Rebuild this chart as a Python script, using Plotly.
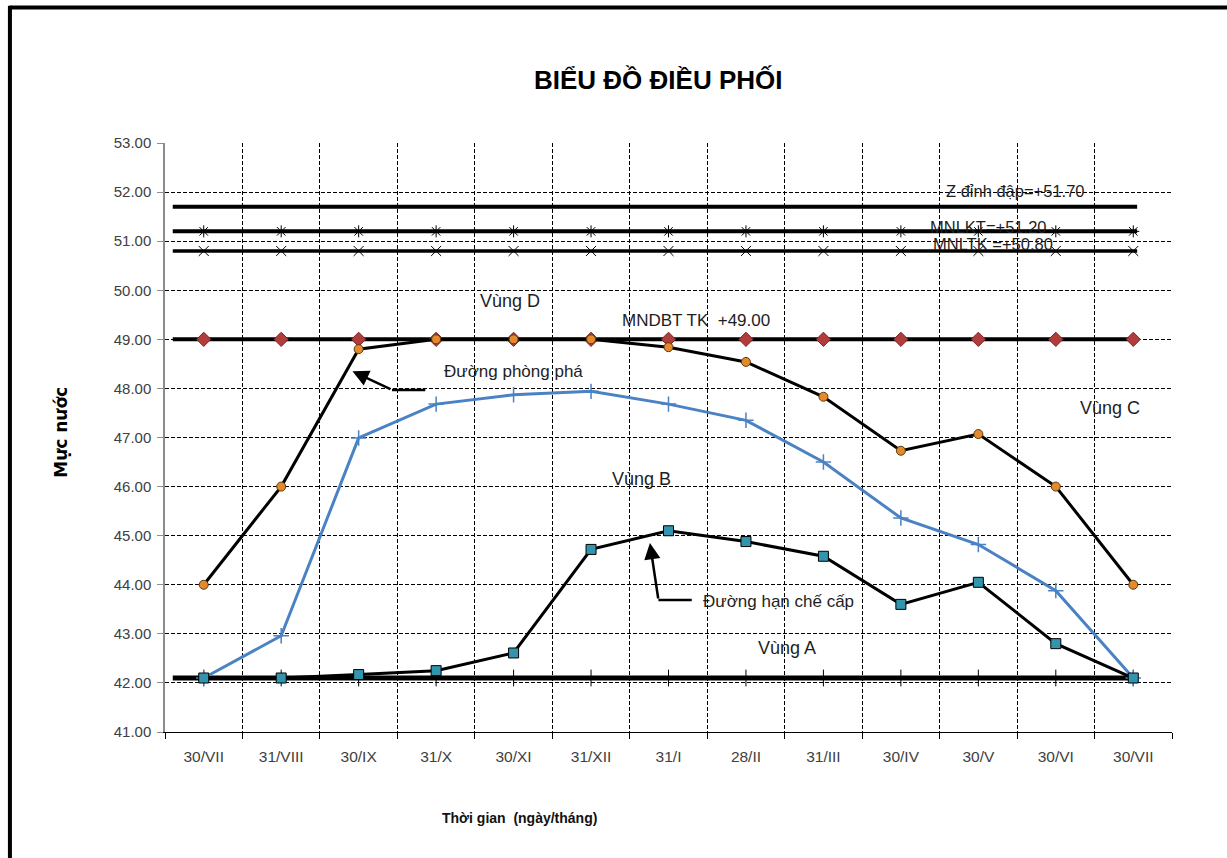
import plotly.graph_objects as go

# Time axis (end of each month)
months = ["30/VII", "31/VIII", "30/IX", "31/X", "30/XI", "31/XII", "31/I",
          "28/II", "31/III", "30/IV", "30/V", "30/VI", "30/VII"]

# Rule curves (water level, m)
phong_pha = [44.00, 46.00, 48.80, 49.00, 49.00, 49.00, 48.84, 48.54, 47.83,
             46.73, 47.07, 46.00, 44.00]
blue_curve = [42.10, 42.96, 46.99, 47.68, 47.87, 47.94, 47.68, 47.35, 46.50,
              45.36, 44.82, 43.88, 42.10]
han_che_cap = [42.10, 42.10, 42.17, 42.25, 42.61, 44.72, 45.10, 44.88, 44.58,
               43.60, 44.05, 42.80, 42.10]

# Characteristic levels
z_dinh_dap = 51.70
mnlkt = 51.20
mnltk = 50.80
mndbt = 49.00
mnc = 42.10

yticks = [41, 42, 43, 44, 45, 46, 47, 48, 49, 50, 51, 52, 53]

REG = "Liberation Sans, Arial, sans-serif"
WIDE = "DejaVu Sans, Liberation Sans, sans-serif"
GRID_DASH = "4px,2px"

x = list(range(len(months)))
x_span = [-0.4, len(months) - 1 + 0.05]

fig = go.Figure()


def level_line(level, width, marker=None, msize=8, mcolor="black", mline=None):
    fig.add_trace(go.Scatter(x=x_span, y=[level, level], mode="lines",
                             line=dict(color="black", width=width),
                             hoverinfo="skip", showlegend=False))
    if marker:
        fig.add_trace(go.Scatter(
            x=x, y=[level] * len(x), mode="markers",
            marker=dict(symbol=marker, size=msize, color=mcolor,
                        line=mline or dict(color="black", width=1)),
            showlegend=False))


level_line(z_dinh_dap, 4)
level_line(mnlkt, 4, "asterisk-open", 10, "black", dict(color="black", width=1))
level_line(mnltk, 3.5, "x-thin-open", 10, "black", dict(color="black", width=1))
level_line(mnc, 5, "line-ns-open", 12, "black", dict(color="black", width=1))
level_line(mndbt, 4, "diamond", 11, "#b03c3c", dict(color="#7a2424", width=1))

# Đường phòng phá
fig.add_trace(go.Scatter(
    x=x, y=phong_pha, mode="lines+markers",
    line=dict(color="black", width=3),
    marker=dict(symbol="circle", size=9, color="#e48a2c",
                line=dict(color="#5a3a10", width=1)),
    showlegend=False))

# Blue curve
fig.add_trace(go.Scatter(
    x=x, y=blue_curve, mode="lines+markers",
    line=dict(color="#4a82c4", width=3),
    marker=dict(symbol="cross-thin-open", size=11,
                line=dict(color="#4a82c4", width=1.5)),
    showlegend=False))

# Đường hạn chế cấp
fig.add_trace(go.Scatter(
    x=x, y=han_che_cap, mode="lines+markers",
    line=dict(color="black", width=3),
    marker=dict(symbol="square", size=10, color="#3394ae",
                line=dict(color="black", width=1)),
    showlegend=False))

annotations = [
    dict(text="<b>BIỂU ĐỒ ĐIỀU PHỐI</b>", xref="paper", yref="paper",
         x=0.49, y=1.0, yshift=80, showarrow=False,
         font=dict(size=26, color="black")),
    dict(text="<b>Thời gian  (ngày/tháng)</b>", xref="paper", yref="paper",
         x=0.352, y=0.0, yshift=-96, showarrow=False,
         font=dict(size=14, color="#111111")),
    dict(text="<b>Mực nước</b>", xref="paper", yref="paper",
         x=0.0, xshift=-116, y=0.508, textangle=-90, showarrow=False,
         font=dict(size=17, color="black", family=WIDE)),
    dict(text="Vùng D", x=3.95, y=49.78, showarrow=False, font=dict(size=18)),
    dict(text="MNDBT TK  +49.00", x=6.35, y=49.38, showarrow=False),
    dict(text="Đường phòng phá", x=4.0, y=48.35, showarrow=False),
    dict(text="Vùng C", x=11.7, y=47.6, showarrow=False, font=dict(size=18)),
    dict(text="Vùng B", x=5.65, y=46.15, showarrow=False, font=dict(size=18)),
    dict(text="Đường hạn chế cấp", x=7.42, y=43.65, showarrow=False),
    dict(text="Vùng A", x=7.53, y=42.71, showarrow=False, font=dict(size=18)),
    dict(text="Z đỉnh đập=+51.70", x=10.48, y=52.02, showarrow=False,
         font=dict(size=16.5)),
    dict(text="MNLKT=+51.20", x=10.12, y=51.29, showarrow=False,
         font=dict(size=16.5)),
    dict(text="MNLTK =+50.80", x=10.19, y=50.95, showarrow=False,
         font=dict(size=16.5)),
    # pointer arrows
    dict(text="", x=1.92, y=48.35, ax=2.43, ay=47.97, axref="x", ayref="y",
         showarrow=True, arrowhead=2, arrowsize=1.3, arrowwidth=2.5,
         arrowcolor="black"),
    dict(text="", x=5.76, y=44.85, ax=5.87, ay=43.69, axref="x", ayref="y",
         showarrow=True, arrowhead=2, arrowsize=1.3, arrowwidth=2.5,
         arrowcolor="black"),
]
for a in annotations:
    if "xref" not in a:
        a.setdefault("xref", "x")
        a.setdefault("yref", "y")
    a.setdefault("font", {})
    a["font"].setdefault("family", REG)
    a["font"].setdefault("size", 17)
    a["font"].setdefault("color", "#1e1e1e")

shapes = [
    # pointer tails
    dict(type="line", xref="x", yref="y", x0=2.43, y0=47.97, x1=2.86, y1=47.97,
         line=dict(color="black", width=2.5)),
    dict(type="line", xref="x", yref="y", x0=5.87, y0=43.69, x1=6.3, y1=43.69,
         line=dict(color="black", width=2.5)),
    # outer frame (top and left edges)
    dict(type="line", xref="paper", yref="paper",
         x0=-0.154, y0=1.23, x1=1.06, y1=1.23, line=dict(color="black", width=4)),
    dict(type="line", xref="paper", yref="paper",
         x0=-0.154, y0=1.233, x1=-0.154, y1=-0.3, line=dict(color="black", width=4)),
]

fig.update_layout(
    width=1227, height=858,
    margin=dict(l=165, r=55, t=143, b=126),
    paper_bgcolor="white", plot_bgcolor="white",
    font=dict(family=REG, color="#404040", size=14),
    annotations=annotations, shapes=shapes,
    showlegend=False,
)

fig.update_xaxes(
    range=[-0.5, len(months) - 0.5],
    tickmode="array", tickvals=x, ticktext=months, ticks="",
    ticklabelstandoff=10,
    showgrid=False, zeroline=False,
    showline=True, linecolor="black", linewidth=1.2,
    tickfont=dict(size=15.5, color="#404040", family=REG),
    minor=dict(tick0=0.5, dtick=1, showgrid=True, gridcolor="black",
               griddash=GRID_DASH, gridwidth=1, ticks="outside", ticklen=6,
               tickcolor="black"),
)
fig.update_yaxes(
    range=[41, 53], tickmode="array", tickvals=yticks,
    ticktext=[f"{v:.2f}" for v in yticks],
    ticklabelstandoff=3,
    showgrid=True, gridcolor="black", griddash=GRID_DASH, gridwidth=1,
    zeroline=False, showline=True, linecolor="#8c8c8c", linewidth=1.5,
    ticks="outside", ticklen=6, tickcolor="#8c8c8c",
    tickfont=dict(size=15, color="#404040", family=REG),
)

fig.write_html("out.html")
